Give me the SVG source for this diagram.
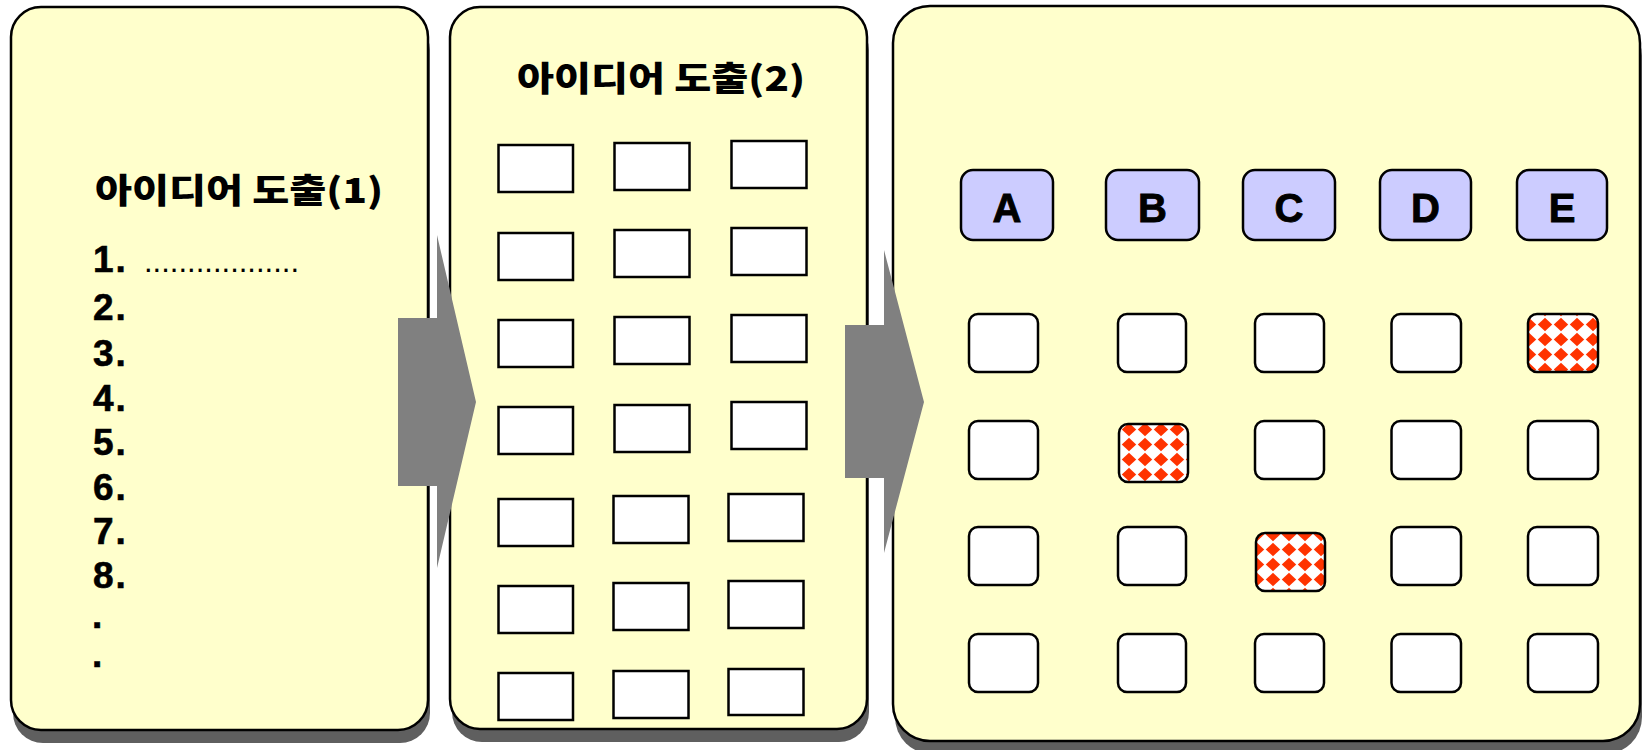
<svg xmlns="http://www.w3.org/2000/svg" width="1643" height="750" viewBox="0 0 1643 750">
  <style>
    .panel { fill: #FFFFCC; stroke: #000; stroke-width: 2.5; }
    .shadow { fill: #5F5F5F; }
    .slot { fill: #FFFFFF; stroke: #000; stroke-width: 2.5; }
    .cell { fill: #FFFFFF; stroke: #000; stroke-width: 2.5; }
    .picked { fill: url(#diamonds); stroke: #000; stroke-width: 2.5; }
    .head { fill: #CCCCFF; stroke: #000; stroke-width: 2.5; }
    .title { font-family: 'Noto Sans CJK KR', 'Liberation Sans', sans-serif; font-weight: 900; font-size: 34px; fill: #000; }
    .item { font-family: 'Liberation Sans', Arial, sans-serif; font-weight: 700; font-size: 37px; letter-spacing: 2px; fill: #000; stroke: #000; stroke-width: 0.6; }
    .leader { font-family: 'Liberation Sans', Arial, sans-serif; font-size: 31px; fill: #000; }
    .letter { font-family: 'Liberation Sans', Arial, sans-serif; font-weight: 700; font-size: 40px; fill: #000; stroke: #000; stroke-width: 0.9; text-anchor: middle; }
    .flow { fill: #808080; stroke: none; }
  </style>
  <defs>
    <!-- red diamond lattice for the selected cells -->
    <pattern id="diamonds" width="16" height="15" patternUnits="userSpaceOnUse" x="1" y="2">
      <rect width="16" height="15" fill="#FFFFFF"/>
      <polygon points="8,0.8 15.2,7.5 8,14.2 0.8,7.5" fill="#FF3300"/>
    </pattern>
  </defs>

  <!-- panel 1: idea list -->
  <g id="panel-ideas-1">
    <rect class="shadow" x="13" y="20" width="417" height="723" rx="30"/>
    <rect class="panel" x="11" y="7" width="417" height="723" rx="30"/>
    <text class="title" x="95" y="203" textLength="288" lengthAdjust="spacingAndGlyphs">아이디어 도출(1)</text>
    <text class="item" x="93" y="272">1.</text>
    <text class="leader" x="144" y="272">..................</text>
    <text class="item" x="93" y="320">2.</text>
    <text class="item" x="93" y="366">3.</text>
    <text class="item" x="93" y="411">4.</text>
    <text class="item" x="93" y="455">5.</text>
    <text class="item" x="93" y="500">6.</text>
    <text class="item" x="93" y="544">7.</text>
    <text class="item" x="93" y="588">8.</text>
    <text class="item" x="92" y="628">.</text>
    <text class="item" x="92" y="667">.</text>
  </g>

  <!-- panel 2: idea slots -->
  <g id="panel-ideas-2">
    <rect class="shadow" x="452" y="20" width="417" height="722" rx="30"/>
    <rect class="panel" x="450" y="7" width="417" height="722" rx="30"/>
    <text class="title" x="517" y="91" textLength="288" lengthAdjust="spacingAndGlyphs">아이디어 도출(2)</text>
    <g id="slots">
      <rect class="slot" x="498.5" y="145" width="74.5" height="47"/>
      <rect class="slot" x="614.5" y="143" width="75" height="47"/>
      <rect class="slot" x="731.5" y="141" width="75" height="47"/>
      <rect class="slot" x="498.5" y="233" width="74.5" height="47"/>
      <rect class="slot" x="614.5" y="230" width="75" height="47"/>
      <rect class="slot" x="731.5" y="228" width="75" height="47"/>
      <rect class="slot" x="498.5" y="320" width="74.5" height="47"/>
      <rect class="slot" x="614.5" y="317" width="75" height="47"/>
      <rect class="slot" x="731.5" y="315" width="75" height="47"/>
      <rect class="slot" x="498.5" y="407" width="74.5" height="47"/>
      <rect class="slot" x="614.5" y="405" width="75" height="47"/>
      <rect class="slot" x="731.5" y="402" width="75" height="47"/>
      <rect class="slot" x="498.5" y="499" width="74.5" height="47"/>
      <rect class="slot" x="613.5" y="496" width="75" height="47"/>
      <rect class="slot" x="728.5" y="494" width="75" height="47"/>
      <rect class="slot" x="498.5" y="586" width="74.5" height="47"/>
      <rect class="slot" x="613.5" y="583" width="75" height="47"/>
      <rect class="slot" x="728.5" y="581" width="75" height="47"/>
      <rect class="slot" x="498.5" y="673" width="74.5" height="47"/>
      <rect class="slot" x="613.5" y="671" width="75" height="47"/>
      <rect class="slot" x="728.5" y="669" width="75" height="46"/>
    </g>
  </g>

  <!-- panel 3: evaluation matrix -->
  <g id="panel-matrix">
    <rect class="shadow" x="895" y="19" width="747" height="735" rx="37"/>
    <rect class="panel" x="893" y="6" width="747" height="735" rx="37"/>
    <g id="head-A"><rect class="head" x="961" y="170" width="92" height="70" rx="12"/><text class="letter" x="1007" y="222">A</text></g>
    <g id="head-B"><rect class="head" x="1106" y="170" width="93" height="70" rx="12"/><text class="letter" x="1152.5" y="222">B</text></g>
    <g id="head-C"><rect class="head" x="1243" y="170" width="92" height="70" rx="12"/><text class="letter" x="1289" y="222">C</text></g>
    <g id="head-D"><rect class="head" x="1380" y="170" width="91" height="70" rx="12"/><text class="letter" x="1425.5" y="222">D</text></g>
    <g id="head-E"><rect class="head" x="1517" y="170" width="90" height="70" rx="12"/><text class="letter" x="1562" y="222">E</text></g>
    <g id="cells">
      <rect class="cell" x="969" y="314" width="69" height="58" rx="9"/>
      <rect class="cell" x="1118" y="314" width="68" height="58" rx="9"/>
      <rect class="cell" x="1255" y="314" width="69" height="58" rx="9"/>
      <rect class="cell" x="1391.5" y="314" width="69.5" height="58" rx="9"/>
      <rect class="picked" x="1528" y="314" width="70" height="58" rx="9"/>

      <rect class="cell" x="969" y="421" width="69" height="58" rx="9"/>
      <rect class="picked" x="1119" y="424" width="69" height="58" rx="9"/>
      <rect class="cell" x="1255" y="421" width="69" height="58" rx="9"/>
      <rect class="cell" x="1391.5" y="421" width="69.5" height="58" rx="9"/>
      <rect class="cell" x="1528" y="421" width="70" height="58" rx="9"/>

      <rect class="cell" x="969" y="527" width="69" height="58" rx="9"/>
      <rect class="cell" x="1118" y="527" width="68" height="58" rx="9"/>
      <rect class="picked" x="1256" y="533" width="69" height="58" rx="9"/>
      <rect class="cell" x="1391.5" y="527" width="69.5" height="58" rx="9"/>
      <rect class="cell" x="1528" y="527" width="70" height="58" rx="9"/>

      <rect class="cell" x="969" y="634" width="69" height="58" rx="9"/>
      <rect class="cell" x="1118" y="634" width="68" height="58" rx="9"/>
      <rect class="cell" x="1255" y="634" width="69" height="58" rx="9"/>
      <rect class="cell" x="1391.5" y="634" width="69.5" height="58" rx="9"/>
      <rect class="cell" x="1528" y="634" width="70" height="58" rx="9"/>
    </g>
  </g>

  <!-- block arrows between the panels -->
  <g id="connectors">
    <polygon class="flow" points="398,318 437,318 437,235 476,402 437,568 437,486 398,486"/>
    <polygon class="flow" points="845,325 884,325 884,250 924,402 884,553 884,478 845,478"/>
  </g>
</svg>
